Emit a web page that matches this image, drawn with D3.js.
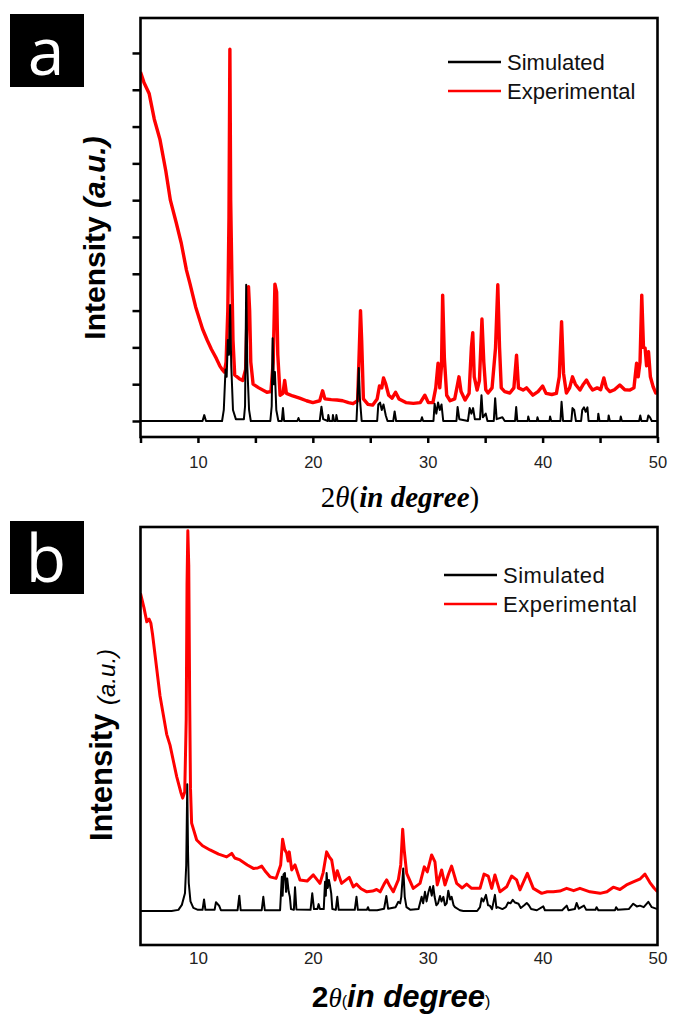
<!DOCTYPE html>
<html>
<head>
<meta charset="utf-8">
<script src="https://cdn.jsdelivr.net/npm/d3@7"></script>
<style>
  html, body { margin: 0; padding: 0; background: #fff; }
  svg { display: block; }
  .tick text { font-family: "Liberation Sans", Arial, sans-serif; fill: #222; }
</style>
</head>
<body>
<svg id="chart" width="673" height="1017"></svg>
<script>
// ---- panel a: pattern, [2theta, intensity] ----
const simulatedA = [
  [5.0, 0], [10.4, 0], [10.55, 0.16], [10.7, 0], [12.1, 0], [12.25, 0.3], [12.4, 1.4], [12.5, 1.2],
  [12.6, 2.2], [12.7, 1.8], [12.8, 3.15], [12.9, 1.5], [13.05, 0.3], [13.3, 0.05], [14.0, 0.05],
  [14.1, 0.4], [14.2, 3.7], [14.3, 1.45], [14.45, 0.3], [14.6, 0], [16.3, 0], [16.42, 0.4],
  [16.5, 2.25], [16.6, 1.0], [16.7, 1.33], [16.82, 0.3], [17.0, 0], [17.3, 0], [17.4, 0.35],
  [17.5, 0], [18.65, 0], [18.75, 0.08], [18.85, 0], [20.6, 0], [20.75, 0.39], [20.9, 0.05],
  [21.3, 0], [21.35, 0.16], [21.45, 0], [21.7, 0], [21.75, 0.16], [21.85, 0], [22.0, 0],
  [22.05, 0.16], [22.15, 0], [23.8, 0], [23.9, 0.7], [24.0, 1.44], [24.1, 0.6], [24.25, 0],
  [25.6, 0], [25.7, 0.45], [25.85, 0.5], [26.0, 0.3], [26.15, 0.45], [26.35, 0.15], [26.5, 0],
  [27.0, 0], [27.12, 0.26], [27.25, 0], [29.4, 0], [29.5, 0.1], [29.6, 0], [30.5, 0],
  [30.6, 0.47], [30.75, 0.2], [30.9, 0.5], [31.05, 0.3], [31.2, 0.45], [31.35, 0], [32.5, 0],
  [32.6, 0.38], [32.75, 0.05], [33.5, 0], [33.65, 0.35], [33.8, 0.2], [33.95, 0.35], [34.1, 0.05],
  [34.55, 0.05], [34.68, 0.7], [34.8, 0.1], [35.05, 0.2], [35.2, 0], [35.75, 0], [35.87, 0.62],
  [36.0, 0.05], [36.5, 0.1], [36.7, 0], [37.6, 0], [37.7, 0.38], [37.8, 0], [38.7, 0],
  [38.75, 0.12], [38.85, 0], [39.5, 0], [39.55, 0.1], [39.65, 0], [40.6, 0], [40.65, 0.12],
  [40.75, 0], [41.55, 0], [41.65, 0.52], [41.78, 0], [42.5, 0], [42.6, 0.35], [42.75, 0.3],
  [42.9, 0], [43.35, 0], [43.45, 0.3], [43.6, 0.37], [43.75, 0.25], [43.9, 0.37], [44.0, 0],
  [44.8, 0], [44.85, 0.2], [44.95, 0], [45.7, 0], [45.75, 0.15], [45.85, 0], [46.75, 0],
  [46.8, 0.12], [46.9, 0], [48.4, 0], [48.5, 0.15], [48.6, 0], [49.1, 0], [49.2, 0.15],
  [49.35, 0.1], [49.5, 0], [50.0, 0]
];
const experimentalA = [
  [5.0, 9.48], [5.3, 9.2], [5.75, 8.9], [6.2, 8.2], [6.7, 7.64], [7.2, 6.8], [7.6, 6.0], [8.1, 5.4],
  [8.55, 4.83], [9.0, 4.1], [9.3, 3.74], [9.8, 3.1], [10.4, 2.5], [10.8, 2.2], [11.17, 1.95],
  [11.6, 1.7], [11.9, 1.5], [12.1, 1.4], [12.3, 1.33], [12.45, 1.6], [12.6, 3.0], [12.7, 5.5],
  [12.78, 10.1], [12.85, 6.0], [12.95, 4.0], [13.05, 2.2], [13.2, 1.25], [13.6, 1.15], [13.9, 1.1],
  [14.15, 1.4], [14.3, 3.2], [14.4, 3.65], [14.5, 3.0], [14.6, 1.6], [14.8, 1.0], [15.3, 0.9],
  [16.0, 0.78], [16.35, 0.8], [16.55, 1.6], [16.7, 3.72], [16.85, 3.5], [16.95, 1.8], [17.15, 0.7],
  [17.4, 0.75], [17.55, 1.1], [17.7, 0.75], [18.25, 0.68], [18.85, 0.62], [19.45, 0.55], [20.0, 0.5],
  [20.6, 0.55], [20.85, 0.82], [21.05, 0.6], [21.6, 0.58], [22.1, 0.57], [22.6, 0.55], [23.1, 0.5],
  [23.5, 0.47], [23.9, 0.55], [24.05, 2.0], [24.15, 3.0], [24.25, 2.2], [24.4, 0.6], [24.8, 0.45],
  [25.2, 0.43], [25.6, 0.6], [25.8, 0.95], [26.0, 0.9], [26.15, 1.17], [26.35, 1.0], [26.6, 0.7],
  [26.9, 0.62], [27.2, 0.78], [27.5, 0.6], [28.1, 0.5], [28.75, 0.48], [29.35, 0.5], [29.75, 0.7],
  [30.05, 0.5], [30.45, 0.5], [30.7, 0.9], [30.9, 1.57], [31.05, 0.9], [31.2, 1.5], [31.3, 3.42],
  [31.45, 1.7], [31.65, 0.7], [31.95, 0.55], [32.35, 0.6], [32.6, 1.0], [32.72, 1.2], [32.9, 0.8],
  [33.25, 0.57], [33.6, 0.75], [33.8, 2.0], [33.92, 2.4], [34.05, 1.2], [34.3, 0.84], [34.5, 1.1],
  [34.72, 2.77], [34.88, 1.6], [35.05, 0.85], [35.25, 0.76], [35.6, 0.9], [35.9, 1.98], [36.1, 3.7],
  [36.25, 2.0], [36.4, 0.9], [36.7, 0.8], [37.15, 0.76], [37.5, 0.9], [37.73, 1.79], [37.9, 0.9],
  [38.3, 0.84], [38.6, 0.9], [39.15, 0.7], [39.6, 0.8], [40.0, 0.95], [40.3, 0.75], [40.8, 0.72],
  [41.2, 0.75], [41.45, 1.2], [41.65, 2.7], [41.82, 1.3], [42.07, 0.76], [42.35, 0.9], [42.6, 1.2],
  [42.85, 1.0], [43.25, 0.84], [43.55, 1.0], [43.82, 1.11], [44.1, 0.95], [44.35, 0.84], [44.75, 0.9],
  [45.05, 0.85], [45.33, 1.17], [45.55, 0.9], [45.85, 0.8], [46.25, 0.85], [46.72, 0.98], [47.15, 0.85],
  [47.6, 0.84], [47.95, 0.9], [48.18, 1.57], [48.32, 1.2], [48.48, 1.6], [48.63, 3.42], [48.78, 2.0],
  [48.92, 1.98], [49.05, 1.5], [49.22, 1.88], [49.38, 1.2], [49.62, 0.93], [49.85, 0.76], [50.0, 0.8]
];

// ---- panel b ----
const simulatedB = [
  [5.0, 0], [7.7, 0], [8.3, 0.3], [8.6, 1.6], [8.87, 4.6], [8.98, 12], [9.07, 33], [9.14, 15],
  [9.2, 7.3], [9.35, 2.5], [9.6, 0.8], [10.0, 0.3], [10.4, 0.3], [10.53, 3.0], [10.65, 0.3],
  [11.45, 0.3], [11.57, 2.3], [11.86, 1.3], [12.0, 0.2], [13.45, 0.2], [13.6, 4.0], [13.72, 0.2],
  [15.55, 0.2], [15.69, 3.7], [15.82, 0.2], [17.15, 0.2], [17.3, 8.9], [17.37, 4], [17.45, 9.5],
  [17.57, 9.9], [17.67, 5], [17.77, 8.5], [17.9, 5], [18.0, 3.7], [18.1, 0.5], [18.35, 0.3],
  [18.45, 6.2], [18.57, 0.4], [19.8, 0.3], [19.95, 4.6], [20.1, 0.5], [20.4, 0.5], [20.5, 1.8],
  [20.62, 0.5], [20.95, 0.5], [21.06, 7.6], [21.13, 4], [21.2, 9.9], [21.3, 6], [21.4, 8.1],
  [21.5, 6.5], [21.6, 4.6], [21.7, 0.5], [22.0, 0.3], [22.13, 3.7], [22.25, 0.3], [23.65, 0.3],
  [23.8, 3.7], [23.92, 0.3], [24.7, 0.3], [24.8, 1.0], [24.9, 0.2], [25.6, 0.2], [26.2, 0.6],
  [26.4, 3.9], [26.55, 0.6], [27.2, 1.0], [27.44, 2.4], [27.6, 2.0], [27.7, 3.7], [27.87, 11.1],
  [28.0, 3.7], [28.15, 1.0], [28.5, 0.3], [29.2, 0.5], [29.47, 3.7], [29.6, 2], [29.76, 5.0],
  [29.9, 2.5], [30.05, 4.8], [30.2, 6.3], [30.35, 4], [30.48, 6.5], [30.6, 3.7], [30.75, 1.5],
  [30.9, 2], [31.07, 3.9], [31.2, 2.5], [31.36, 3.7], [31.5, 1.5], [31.65, 2], [31.79, 5.3],
  [31.95, 3], [32.08, 3.7], [32.25, 1.5], [32.37, 1.0], [32.8, 0.2], [33.1, 0], [34.3, 0],
  [34.55, 1.0], [34.69, 3.3], [34.85, 2.5], [35.07, 4.2], [35.25, 1.5], [35.4, 1.4], [35.6, 0.5],
  [35.85, 4.2], [35.98, 0.8], [36.1, 1.0], [36.5, 0.5], [36.8, 1.0], [37.0, 2.2], [37.2, 2.0],
  [37.4, 2.9], [37.6, 2.2], [37.9, 1.9], [38.1, 0.8], [38.4, 1.5], [38.62, 2.1], [38.8, 1.5],
  [39.0, 0.5], [39.5, 0.2], [40.06, 1.2], [40.2, 0.2], [41.7, 0.2], [42.1, 1.4], [42.25, 0.2],
  [42.8, 0.5], [42.96, 2.1], [43.15, 0.6], [43.6, 1.4], [43.8, 0.3], [44.6, 0.3], [44.7, 1.0],
  [44.85, 0.2], [46.3, 0.2], [46.4, 1.0], [46.55, 0.3], [47.5, 0.5], [47.89, 1.9], [48.2, 1.2],
  [48.47, 1.4], [48.8, 1.0], [49.2, 2.4], [49.5, 1.0], [50.0, 0.5]
];
const experimentalB = [
  [5.0, 82.7], [5.3, 79], [5.55, 75.3], [5.75, 76], [5.9, 75], [6.05, 72], [6.7, 56], [7.28, 46],
  [7.57, 43.2], [8.15, 35], [8.5, 31], [8.67, 29.4], [8.85, 31], [8.98, 50], [9.05, 85], [9.12, 99],
  [9.2, 90], [9.28, 55], [9.35, 32], [9.45, 22.9], [9.89, 18.5], [10.4, 17], [11.05, 15.9],
  [11.8, 14.8], [12.5, 14.1], [12.94, 15.0], [13.2, 13.8], [13.66, 13.3], [14.3, 12], [14.82, 11.1],
  [15.2, 11.2], [15.55, 11.7], [15.9, 10.2], [16.27, 8.9], [16.8, 8.5], [17.2, 12], [17.37, 18.7],
  [17.55, 16], [17.72, 15.1], [17.85, 13], [17.95, 15.4], [18.16, 10.7], [18.45, 12], [18.88, 8.1],
  [19.5, 7.8], [20.04, 9.4], [20.62, 7.2], [20.9, 10], [21.2, 15.4], [21.45, 14], [21.64, 13.3],
  [21.93, 8.1], [22.13, 10.5], [22.5, 7.2], [23.17, 8.75], [23.52, 6.3], [23.8, 7.0], [24.2, 5.8],
  [24.7, 5.0], [25.2, 5.2], [25.55, 5.6], [25.86, 5.0], [26.2, 7], [26.43, 8.1], [26.7, 6.5],
  [27.0, 5.0], [27.44, 8.1], [27.65, 12], [27.82, 21.3], [27.95, 16], [28.17, 9.8], [28.74, 5.9],
  [29.33, 7.2], [29.7, 11.5], [29.96, 10.2], [30.34, 14.6], [30.63, 12.8], [30.83, 6.8], [31.21, 10.7],
  [31.5, 6.8], [31.8, 9.5], [32.08, 11.7], [32.52, 7.2], [33.0, 6.0], [33.39, 7.0], [33.82, 5.9],
  [34.55, 5.9], [34.9, 9.6], [35.27, 9.1], [35.57, 5.9], [35.85, 9.4], [36.29, 5.0], [36.87, 6.3],
  [37.3, 9.1], [37.74, 8.1], [38.03, 5.5], [38.67, 9.8], [39.19, 5.9], [39.92, 4.6], [40.4, 5.0],
  [40.93, 5.0], [41.5, 5.2], [42.09, 5.9], [42.7, 5.3], [43.25, 5.9], [44.12, 5.0], [45.0, 4.6],
  [45.6, 5.0], [46.15, 6.2], [46.73, 5.6], [47.3, 6.8], [47.89, 7.6], [48.5, 8.4], [48.91, 9.6],
  [49.34, 7.4], [49.7, 6.0], [50.0, 5.0]
];

const xTicks = [5, 10, 15, 20, 25, 30, 35, 40, 45, 50];
const xTickLabels = [10, 20, 30, 40, 50];
const yTicksA = [0, 1, 2, 3, 4, 5, 6, 7, 8, 9, 10];
const legendLabels = ["Simulated", "Experimental"];
const seriesColors = ["#000000", "#ff0000"];

const sansFont = "'Liberation Sans', Arial, sans-serif";
const serifFont = "'Liberation Serif', 'Times New Roman', serif";

const svg = d3.select("#chart");
svg.append("rect").attr("width", 673).attr("height", 1017).attr("fill", "#fff");

function drawPanel(p) {
    const x = d3.scaleLinear().domain([5, 50]).range([p.left, p.right]);
    const y = d3.scaleLinear().domain(p.yDomain).range([p.bottom, p.top]);
    const g = svg.append("g");

    const clipId = "clip-" + p.letter;
    g.append("clipPath").attr("id", clipId)
        .append("rect")
        .attr("x", p.left).attr("y", p.top)
        .attr("width", p.right - p.left).attr("height", p.bottom - p.top);

    const line = d3.line().x(d => x(d[0])).y(d => y(d[1]));
    const plot = g.append("g").attr("clip-path", `url(#${clipId})`);
    plot.append("path").datum(p.exp)
        .attr("d", line).attr("fill", "none")
        .attr("stroke", seriesColors[1]).attr("stroke-width", p.redWidth)
        .attr("stroke-linejoin", "round");
    plot.append("path").datum(p.sim)
        .attr("d", line).attr("fill", "none")
        .attr("stroke", seriesColors[0]).attr("stroke-width", 2)
        .attr("stroke-linejoin", "round");

    // x axis
    const xAxis = d3.axisBottom(x)
        .tickValues(xTicks)
        .tickSize(p.xTickSize)
        .tickSizeOuter(0)
        .tickPadding(p.xTickPad)
        .tickFormat(d => xTickLabels.includes(d) ? d : "");
    const xg = g.append("g").attr("transform", `translate(0,${p.bottom})`).call(xAxis);
    xg.select(".domain").remove();
    xg.selectAll("line").attr("stroke", "#000").attr("stroke-width", 2.5);
    xg.selectAll("text").style("font-size", p.tickFont + "px").style("font-family", sansFont);

    if (p.yTicks) {
        const yAxis = d3.axisLeft(y).tickValues(p.yTicks).tickSize(8).tickSizeOuter(0).tickFormat("");
        const yg = g.append("g").attr("transform", `translate(${p.left},0)`).call(yAxis);
        yg.select(".domain").remove();
        yg.selectAll("line").attr("stroke", "#000").attr("stroke-width", 2.5);
    }

    // frame
    g.append("rect")
        .attr("x", p.left).attr("y", p.top)
        .attr("width", p.right - p.left).attr("height", p.bottom - p.top)
        .attr("fill", "none").attr("stroke", "#000").attr("stroke-width", 2.6);

    // legend
    legendLabels.forEach((lab, i) => {
        const ly = p.legendY + i * 29;
        g.append("line")
            .attr("x1", p.legendX).attr("x2", p.legendX + 53)
            .attr("y1", ly).attr("y2", ly)
            .attr("stroke", seriesColors[i]).attr("stroke-width", 2.5);
        g.append("text")
            .attr("x", p.legendX + 59).attr("y", ly + 8)
            .style("font-family", sansFont)
            .style("font-size", "22px")
            .style("letter-spacing", p.legendSpacing)
            .attr("fill", "#111")
            .text(lab);
    });

    // letter box
    g.append("rect")
        .attr("x", 10).attr("y", p.boxY).attr("width", 74).attr("height", 73)
        .attr("fill", "#000");
    g.append("text")
        .attr("x", 46).attr("y", p.boxY + p.letterDy)
        .attr("text-anchor", "middle")
        .style("font-family", "'Open Sans', 'Noto Sans', sans-serif")
        .style("font-size", "66px")
        .attr("fill", "#fff")
        .text(p.letter);
    return g;
}

const gA = drawPanel({
    letter: "a", left: 140.5, right: 657.5, top: 18, bottom: 437,
    yDomain: [-0.435, 10.95], yTicks: yTicksA,
    sim: simulatedA, exp: experimentalA, redWidth: 3.4,
    xTickSize: 6, xTickPad: 13, tickFont: 16.5,
    legendX: 448, legendY: 62, legendSpacing: "0px",
    boxY: 14, letterDy: 61
});

const gB = drawPanel({
    letter: "b", left: 140.5, right: 657.5, top: 527, bottom: 945,
    yDomain: [-8.85, 100], yTicks: null,
    sim: simulatedB, exp: experimentalB, redWidth: 3,
    xTickSize: 0, xTickPad: 7, tickFont: 17,
    legendX: 444, legendY: 575, legendSpacing: "0.5px",
    boxY: 521, letterDy: 61
});

// axis titles, panel a
const yTitleA = gA.append("text")
    .attr("transform", "translate(105,238) rotate(-90)")
    .attr("text-anchor", "middle")
    .style("font-family", sansFont)
    .style("font-size", "30px").style("font-weight", "bold");
yTitleA.append("tspan").text("Intensity ");
yTitleA.append("tspan").style("font-style", "italic").text("(a.u.)");

const xTitleA = gA.append("text")
    .attr("x", 400).attr("y", 507)
    .attr("text-anchor", "middle")
    .style("font-family", serifFont)
    .style("font-size", "29px");
xTitleA.append("tspan").text("2");
xTitleA.append("tspan").style("font-style", "italic").text("θ");
xTitleA.append("tspan").text("(");
xTitleA.append("tspan").style("font-style", "italic").style("font-weight", "bold").text("in degree");
xTitleA.append("tspan").text(")");

// axis titles, panel b
const yTitleB = gB.append("text")
    .attr("transform", "translate(112,745) rotate(-90)")
    .attr("text-anchor", "middle")
    .style("font-family", sansFont);
yTitleB.append("tspan").style("font-size", "31px").style("font-weight", "bold").text("Intensity ");
yTitleB.append("tspan").style("font-size", "24px").style("font-style", "italic").attr("dy", 3).text("(a.u.)");

const xTitleB = gB.append("text")
    .attr("x", 401).attr("y", 1007)
    .attr("text-anchor", "middle")
    .style("font-family", sansFont);
xTitleB.append("tspan").style("font-size", "30px").style("font-weight", "bold").text("2");
xTitleB.append("tspan").style("font-size", "27px").style("font-style", "italic")
    .style("font-family", serifFont).text("θ");
xTitleB.append("tspan").style("font-size", "16px").text("(");
xTitleB.append("tspan").style("font-size", "31px").style("font-weight", "bold").style("font-style", "italic").text("in degree");
xTitleB.append("tspan").style("font-size", "16px").text(")");
</script>
</body>
</html>
